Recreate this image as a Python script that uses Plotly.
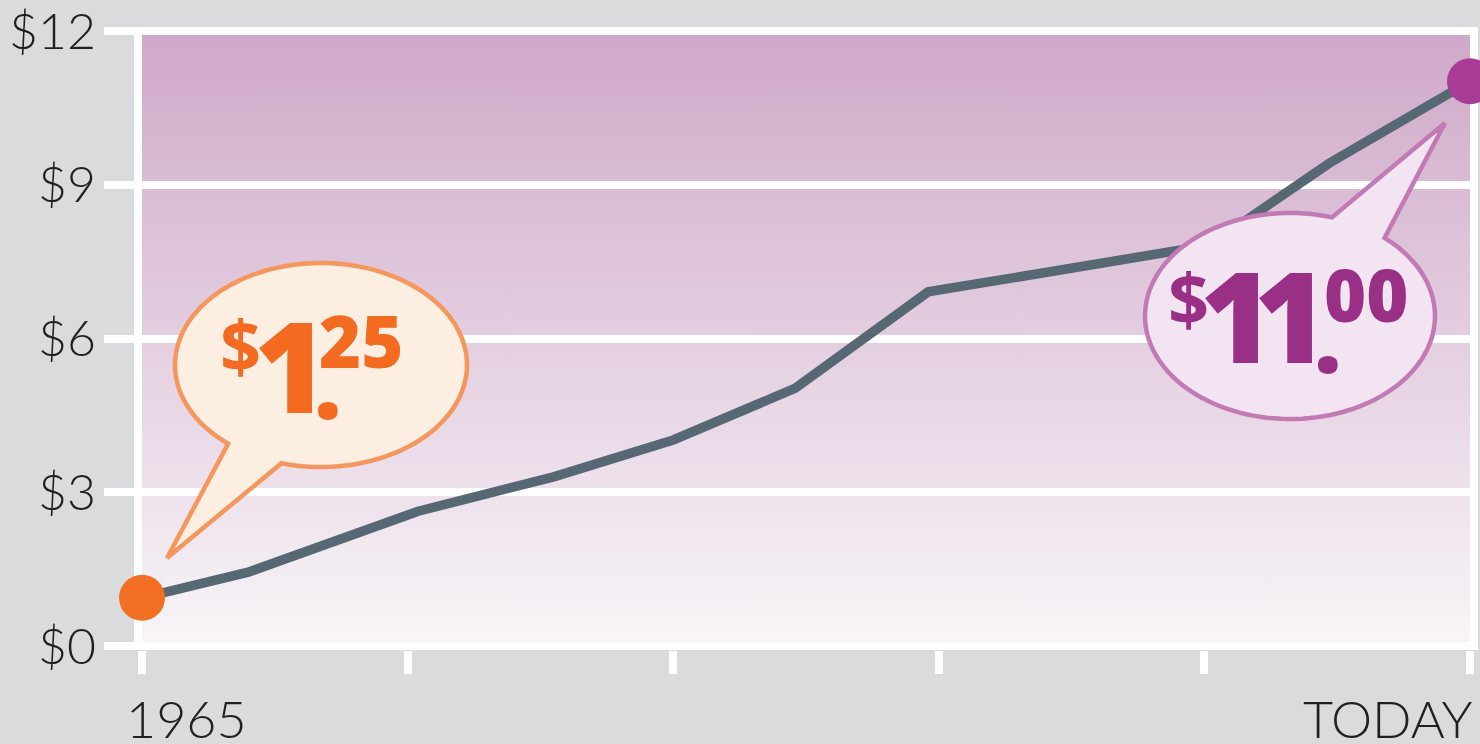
import base64
import math
import plotly.graph_objects as go

# ---------------- data ----------------
years = [1965, 1969, 1975.4, 1980.5, 1985, 1989.6, 1994.6, 2000, 2005.2, 2009.7, 2015]
wage = [0.94, 1.44, 2.63, 3.30, 4.02, 5.03, 6.91, 7.38, 7.82, 9.42, 11.02]
y_tick_vals = [0, 3, 6, 9, 12]
y_tick_text = ["$0", "$3", "$6", "$9", "$12"]
x_tick_vals = [1965, 1975, 1985, 1995, 2005, 2015]
x_end_labels = ["1965", "TODAY"]
start_price = ["$", "1", ".", "25"]
end_price = ["$", "11", ".", "00"]

# ---------------- layout geometry ----------------
W, H = 1480, 744
L, R, T, B = 142, 10, 27, 94
PW, PH = W - L - R, H - T - B
PX_PER_UNIT = 51.25
Y_MAX = (646 - T) / PX_PER_UNIT
Y_MIN = -((H - B) - 646) / PX_PER_UNIT


def fx(px):
    return (px - L) / PW


def fy(py):
    return (H - B - py) / PH


def bubble_path(cx, cy, rx, ry, a_start, a_end, tip, n=120):
    pts = []
    for i in range(n + 1):
        a = math.radians(a_start + (a_end - a_start) * i / n)
        pts.append((cx + rx * math.cos(a), cy + ry * math.sin(a)))
    pts.append(tip)
    d = "M {:.5f},{:.5f} ".format(fx(pts[0][0]), fy(pts[0][1]))
    d += " ".join("L {:.5f},{:.5f}".format(fx(x), fy(y)) for x, y in pts[1:])
    return d + " Z"


# gradient background as an svg image
svg = (
    '<svg xmlns="http://www.w3.org/2000/svg" width="10" height="100" viewBox="0 0 10 100" '
    'preserveAspectRatio="none"><defs><linearGradient id="g" x1="0" y1="0" x2="0" y2="1">'
    '<stop offset="0" stop-color="#cfa8c8"/><stop offset="1" stop-color="#f8f5f8"/>'
    '</linearGradient></defs><rect x="0" y="0" width="10" height="100" fill="url(#g)"/></svg>'
)
svg_uri = "data:image/svg+xml;base64," + base64.b64encode(svg.encode()).decode()

fig = go.Figure()
fig.add_trace(go.Scatter(
    x=years, y=wage, mode="lines",
    line=dict(color="#566873", width=9.5),
    hoverinfo="skip", showlegend=False,
))
fig.add_trace(go.Scatter(
    x=[years[0], years[-1]], y=[wage[0], wage[-1]], mode="markers",
    marker=dict(size=46, color=["#f26f23", "#a93c96"], line=dict(width=0)),
    cliponaxis=False, hoverinfo="skip", showlegend=False,
))

ORANGE_LINE, ORANGE_FILL = "#f5975c", "#fdeee2"
PURPLE_LINE, PURPLE_FILL = "#c27ab4", "#f2e4f0"
shapes = [
    dict(type="path", xref="paper", yref="paper", layer="above",
         path=bubble_path(321, 365, 146, 102, 129.5, 360 + 105.7, (167, 558)),
         fillcolor=ORANGE_FILL, line=dict(color=ORANGE_LINE, width=4.5)),
    dict(type="path", xref="paper", yref="paper", layer="above",
         path=bubble_path(1290, 316, 145, 103, 310.7, 360 + 286.8, (1445, 123)),
         fillcolor=PURPLE_FILL, line=dict(color=PURPLE_LINE, width=4.5)),
]

annotations = []
BFONT = "Open Sans"


def piece(text, px, py, size, color, weight=800):
    annotations.append(dict(
        text=text, x=fx(px), y=fy(py), xref="paper", yref="paper",
        xanchor="center", yanchor="middle", showarrow=False,
        font=dict(family=BFONT, size=size, color=color, weight=weight),
    ))


OR_TXT, PU_TXT = "#f26b21", "#9a2f86"
piece(start_price[0], 240, 345, 72, OR_TXT, 700)
piece(start_price[1], 291, 364, 126, OR_TXT)
piece(start_price[2], 328, 381, 96, OR_TXT)
piece(start_price[3], 361, 340, 72, OR_TXT)
piece(end_price[0], 1188, 298, 72, PU_TXT, 700)
piece(end_price[1][0], 1237, 314, 126, PU_TXT)
piece(end_price[1][1], 1291, 314, 126, PU_TXT)
piece(end_price[2], 1328, 335, 96, PU_TXT)
piece(end_price[3], 1366, 294, 72, PU_TXT)

AX_FONT = dict(family="Lato", size=52, color="#231f20", weight=300)
annotations.append(dict(
    text=x_end_labels[0], x=x_tick_vals[0], xref="x", y=fy(718), yref="paper",
    xanchor="left", yanchor="middle", xshift=-18, showarrow=False, font=AX_FONT,
))
annotations.append(dict(
    text=x_end_labels[1], x=x_tick_vals[-1], xref="x", y=fy(718), yref="paper",
    xanchor="right", yanchor="middle", xshift=5, showarrow=False, font=AX_FONT,
))

fig.update_layout(
    width=W, height=H,
    margin=dict(l=L, r=R, t=T, b=B, pad=0, autoexpand=False),
    paper_bgcolor="#dadbdd", plot_bgcolor="#dadbdd",
    showlegend=False,
    shapes=shapes, annotations=annotations,
    images=[dict(source=svg_uri, xref="x", yref="y", x=1965, y=12,
                 sizex=50, sizey=12, sizing="stretch", layer="below",
                 xanchor="left", yanchor="top")],
)
fig.update_xaxes(
    range=[1965 - 1e-6, 2015 + 1e-6], showgrid=False, zeroline=False, showline=False,
    tickvals=x_tick_vals, showticklabels=False, automargin=False,
    ticks="outside", ticklen=23, tickwidth=8, tickcolor="#ffffff",
    layer="below traces", fixedrange=True,
)
fig.update_yaxes(
    range=[Y_MIN, Y_MAX], showgrid=True, gridcolor="#ffffff", gridwidth=8,
    zeroline=False, showline=True, linecolor="#ffffff", linewidth=8, mirror=True,
    tickvals=y_tick_vals, ticktext=y_tick_text, automargin=False,
    ticks="outside", ticklen=30, tickwidth=8, tickcolor="#ffffff",
    tickfont=dict(family="Lato", size=50, color="#231f20", weight=300),
    ticklabelstandoff=-2, ticklabeloverflow="allow",
    layer="below traces", fixedrange=True,
)

fig.write_html(
    "out.html",
    config={"displayModeBar": False},
    post_script="document.body.style.margin='0';document.body.style.overflow='hidden';",
)
